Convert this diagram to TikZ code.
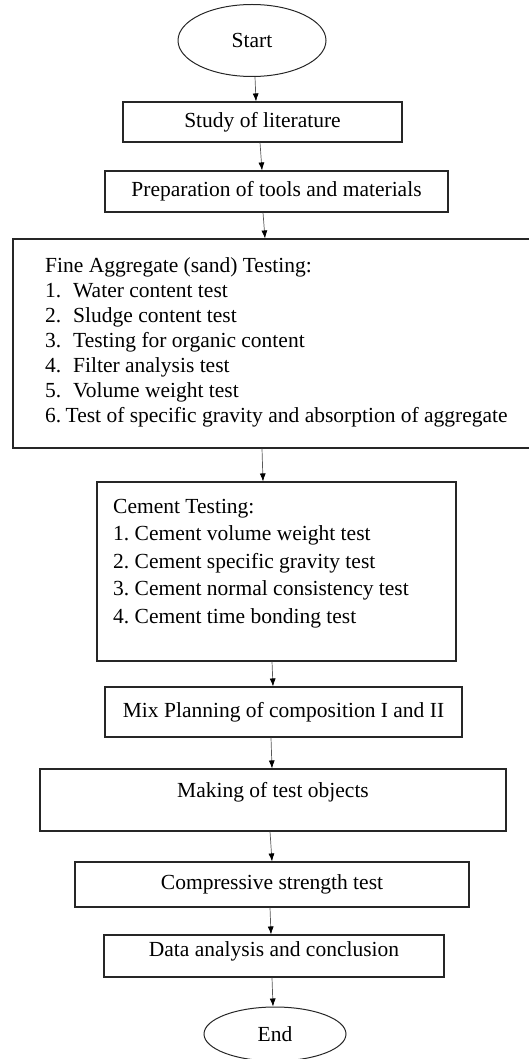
\documentclass[tikz,border=0pt]{standalone}
\usepackage{fontspec}
\setmainfont{Liberation Serif}
\usetikzlibrary{arrows.meta,shapes.geometric,calc}
\begin{document}
\begin{tikzpicture}[x=1pt,y=-1pt,
  box/.style={draw=black!85,line width=1.1pt,rectangle,inner sep=0pt,font=\fontsize{21.5}{25}\selectfont},
  oval/.style={draw=black!85,line width=1pt,ellipse,inner sep=0pt,font=\fontsize{21.5}{25}\selectfont},
  lbl/.style={font=\fontsize{21.5}{25}\selectfont,inner sep=0pt},
  arr/.style={draw=black!65,line width=0.7pt,-{Latex[length=8pt,width=6pt,color=black]}}]
\useasboundingbox (0,0) rectangle (529,1059);
\clip (0,0) rectangle (529,1059);
\node[oval,minimum width=148,minimum height=72] (start) at (252,40.5) {Start};
\node[box,minimum width=279,minimum height=40] (study) at (262.5,122) {Study of literature};
\node[box,minimum width=343,minimum height=41] (prep) at (276.5,191.5) {Preparation of tools and materials};
\node[box,minimum width=527,minimum height=209] (fine) at (276.5,343.5) {};
\node[lbl,align=left,anchor=north west] (finetxt) at (45,257) {Fine Aggregate (sand) Testing:\\
1.\hspace{0.55em}Water content test\\
2.\hspace{0.55em}Sludge content test\\
3.\hspace{0.55em}Testing for organic content\\
4.\hspace{0.55em}Filter analysis test\\
5.\hspace{0.55em}Volume weight test\\
6.\hspace{0.2em}Test of specific gravity and absorption of aggregate};
\node[box,minimum width=359,minimum height=179] (cement) at (276.5,571.5) {};
\node[lbl,align=left,anchor=north west,font=\fontsize{21.5}{27.5}\selectfont] (cemtxt) at (113,499) {Cement Testing:\\
1.\hspace{0.25em}Cement volume weight test\\
2.\hspace{0.25em}Cement specific gravity test\\
3.\hspace{0.25em}Cement normal consistency test\\
4.\hspace{0.25em}Cement time bonding test};
\node[box,minimum width=357,minimum height=50] (mix) at (283.5,712) {Mix Planning of composition I and II};
\node[box,minimum width=466,minimum height=62] (making) at (273,800) {};
\node[lbl] (maketxt) at (273,792) {Making of test objects};
\node[box,minimum width=394,minimum height=45] (comp) at (272,884.5) {Compressive strength test};
\node[box,minimum width=340,minimum height=42] (data) at (274,956) {};
\node[lbl] (datatxt) at (274,951) {Data analysis and conclusion};
\node[oval,minimum width=142,minimum height=54] (end) at (275,1034) {End};
\draw[arr] ([xshift=3]start.south) -- ([xshift=-6.5]study.north);
\draw[arr] ([xshift=-2.5]study.south) -- ([xshift=-14.5]prep.north);
\draw[arr] ([xshift=-13.5]prep.south) -- ([xshift=-11.5]fine.north);
\draw[arr] ([xshift=-14.5]fine.south) -- ([xshift=-13.5]cement.north);
\draw[arr] ([xshift=-4.5]cement.south) -- ([xshift=-10.5]mix.north);
\draw[arr] ([xshift=-12.5]mix.south) -- ([xshift=-1]making.north);
\draw[arr] ([xshift=-3]making.south) -- (comp.north);
\draw[arr] ([xshift=-2]comp.south) -- ([xshift=-3]data.north);
\draw[arr] ([xshift=-2]data.south) -- ([xshift=-2]end.north);
\end{tikzpicture}
\end{document}
